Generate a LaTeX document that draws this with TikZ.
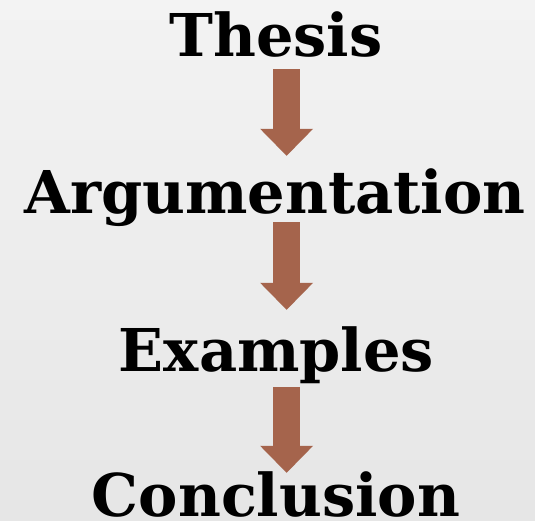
\documentclass[tikz,border=0pt]{standalone}
\usepackage{fontspec}
\setmainfont{DejaVu Serif}
\usetikzlibrary{arrows.meta, positioning}

\definecolor{arrowbrown}{HTML}{A5644C}
\definecolor{bgtop}{HTML}{F3F3F3}
\definecolor{bgbottom}{HTML}{E6E6E6}

\tikzset{
    stage/.style={inner sep=0pt, text height=45pt, text depth=0pt, anchor=base,
        font=\fontsize{59}{61}\selectfont\bfseries},
    flow/.style={draw=arrowbrown, line width=27pt,
        -{Triangle[length=27pt, width=53pt, line width=0pt]}}
}

\begin{document}
\begin{tikzpicture}[x=1pt,y=-1pt]
    \useasboundingbox (0,0) rectangle (535,520);
    \shade[top color=bgtop, bottom color=bgbottom] (0,0) rectangle (535,520);

    \node[stage] (thesis) at (276,56) {Thesis};
    \node[stage] (argu) at (275,213) {Argumentation};
    \node[stage] (examples) at (276.5,371) {Examples};
    \node[stage] (concl) at (276,516) {Conclusion};

    % arrows sit a bit right of the text centres
    \draw[flow, shorten <=13pt, shorten >=12pt] ([xshift=10.6pt]thesis.south) -- ([xshift=11.6pt]argu.north);
    \draw[flow, shorten <=9pt, shorten >=16pt] ([xshift=11.6pt]argu.south) -- ([xshift=10.1pt]examples.north);
    \draw[flow, shorten <=16pt, shorten >=-2pt] ([xshift=10.1pt]examples.south) -- ([xshift=10.6pt]concl.north);
\end{tikzpicture}
\end{document}
